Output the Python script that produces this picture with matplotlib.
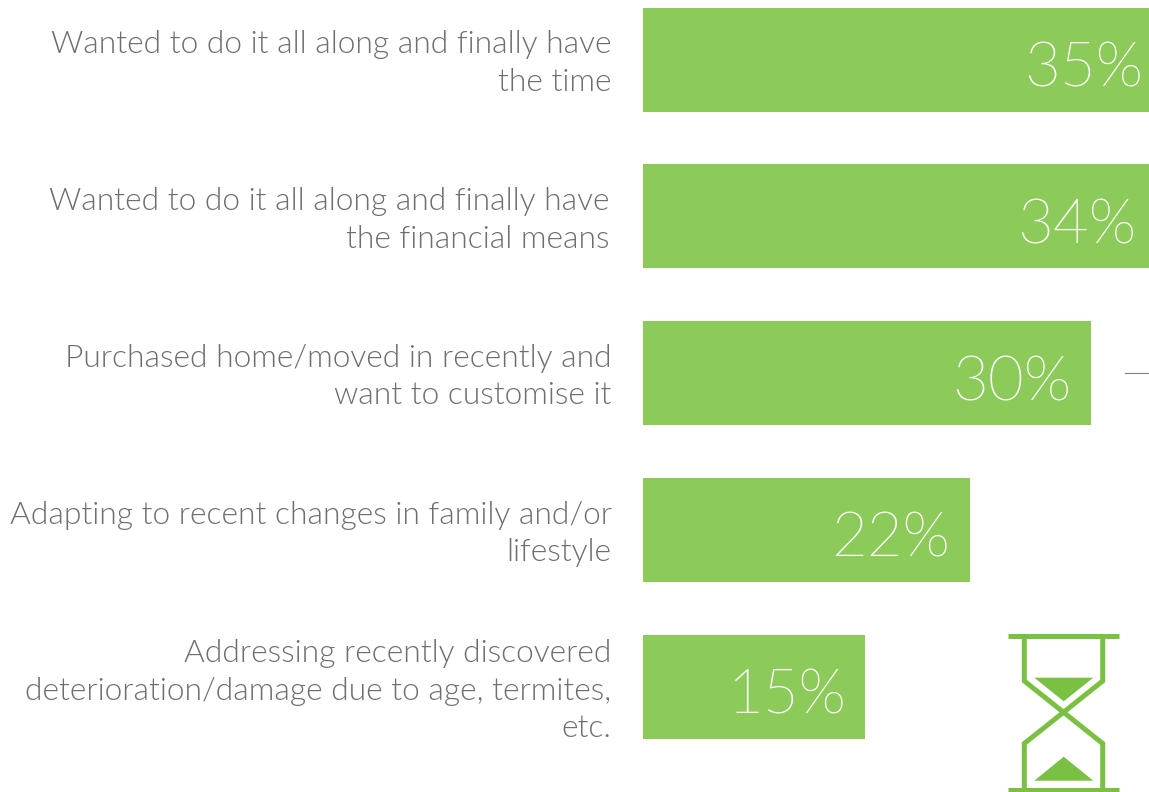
import matplotlib
matplotlib.use("Agg")
import matplotlib.pyplot as plt
from matplotlib.patches import Polygon

labels = [
    "Wanted to do it all along and finally have\nthe time",
    "Wanted to do it all along and finally have\nthe financial means",
    "Purchased home/moved in recently and\nwant to customise it",
    "Adapting to recent changes in family and/or\nlifestyle",
    "Addressing recently discovered\ndeterioration/damage due to age, termites,\netc.",
]
values = [35, 34, 30.05, 21.95, 14.9]

# text tweaks in px, the source is not quite regular
label_right = [611.5, 609.5, 611.5, 611.5, 611.5]
value_shift = [-21, -13, -19, -20, -19]

W, H = 1149, 792
BAR_COLOR = "#8CCB5A"
ICON_COLOR = "#7AC143"
TEXT_COLOR = "#6D6E71"
FONT = "Lato"

fig = plt.figure(figsize=(W / 100, H / 100), dpi=100)

# bars: 14.9 px per percent, zero at x=643, long bars run off the right edge
ax = fig.add_axes([0, 0, 1, 1])
ax.set_xlim(-643 / 14.9, (W - 643) / 14.9)
ax.set_ylim((H - 59.5) / 156.9, -59.5 / 156.9)
ax.axis("off")

ax.barh(range(len(values)), values, height=104 / 156.9, color=BAR_COLOR)

for i, v in enumerate(values):
    ax.annotate(
        f"{round(v)}%",
        xy=(v, i),
        xytext=(value_shift[i], -10),
        textcoords="offset pixels",
        ha="right",
        va="center",
        color="white",
        fontsize=44.5,
        family=FONT,
        weight=275,
        annotation_clip=False,
    )
    ax.annotate(
        labels[i],
        xy=(0, i),
        xytext=(label_right[i] - 643, -4),
        textcoords="offset pixels",
        ha="right",
        va="center",
        color=TEXT_COLOR,
        fontsize=22.85,
        family=FONT,
        weight=300,
        linespacing=1.36,
    )

# overlay in image pixels for the hourglass icon and the stray rule
over = fig.add_axes([0, 0, 1, 1])
over.set_xlim(0, W)
over.set_ylim(H, 0)
over.axis("off")
over.patch.set_alpha(0)

lw = 3.6
over.plot([1008, 1119], [635.5, 635.5], color=ICON_COLOR, lw=lw, solid_capstyle="butt")
over.plot([1008, 1119], [790, 790], color=ICON_COLOR, lw=lw, solid_capstyle="butt")
over.plot(
    [1024.3, 1024.3, 1102.7, 1102.7],
    [635, 681, 743.5, 790],
    color=ICON_COLOR, lw=lw, solid_joinstyle="miter", solid_capstyle="butt",
)
over.plot(
    [1102.7, 1102.7, 1024.3, 1024.3],
    [635, 681, 743.5, 790],
    color=ICON_COLOR, lw=lw, solid_joinstyle="miter", solid_capstyle="butt",
)
over.add_patch(Polygon([(1034.3, 677.7), (1093.3, 677.7), (1063.7, 701.3)], color=ICON_COLOR, lw=0))
over.add_patch(Polygon([(1063.7, 756.7), (1093.3, 780.7), (1034.3, 780.7)], color=ICON_COLOR, lw=0))

over.plot([1125, 1149], [373.3, 373.3], color="#808080", lw=0.8)

fig.savefig("out.png", dpi=100)
